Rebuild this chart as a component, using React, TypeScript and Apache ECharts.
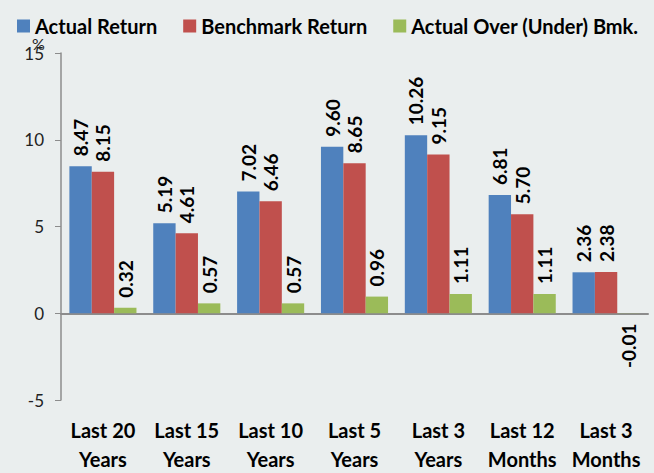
import React, { useEffect, useRef } from "react";
import * as echarts from "echarts";

const categories = [
  "Last 20\nYears",
  "Last 15\nYears",
  "Last 10\nYears",
  "Last 5\nYears",
  "Last 3\nYears",
  "Last 12\nMonths",
  "Last 3\nMonths",
];
const actualReturn = [8.47, 5.19, 7.02, 9.6, 10.26, 6.81, 2.36];
const benchmarkReturn = [8.15, 4.61, 6.46, 8.65, 9.15, 5.7, 2.38];
const overUnder = [0.32, 0.57, 0.57, 0.96, 1.11, 1.11, -0.01];
const seriesNames = ["Actual Return", "Benchmark Return", "Actual Over (Under) Bmk."];
const seriesColors = ["#4F81BD", "#C0504D", "#9BBB59"];
const yTicks = { min: -5, max: 15, interval: 5 };

const FONT = "Lato, 'Open Sans', sans-serif";

function toData(values: number[]) {
  return values.map((v) =>
    v < 0
      ? {
          value: v,
          label: { position: "bottom", align: "right", rotate: 90, verticalAlign: "middle" },
        }
      : v
  );
}

export default function App() {
  const ref = useRef<HTMLDivElement>(null);
  useEffect(() => {
    if (!ref.current) return;
    const chart = echarts.init(ref.current, null, { renderer: "svg" });
    const seriesValues = [actualReturn, benchmarkReturn, overUnder];
    chart.setOption({
      animation: false,
      backgroundColor: "#EAEEEE",
      textStyle: { fontFamily: FONT },
      legend: {
        left: 12,
        top: 11,
        width: 650,
        itemWidth: 13,
        itemHeight: 13,
        itemGap: 26,
        icon: "rect",
        textStyle: { fontFamily: FONT, fontSize: 20, fontWeight: "bold", color: "#000" },
        data: seriesNames,
      },
      grid: { left: 61, right: 6, top: 53, bottom: 65, containLabel: false },
      xAxis: [
        {
          type: "category",
          data: categories,
          axisLine: { show: false, onZero: false },
          axisTick: { show: false },
          axisLabel: {
            interval: 0,
            margin: 15,
            fontFamily: FONT,
            fontSize: 20,
            fontWeight: "bold",
            color: "#000",
            lineHeight: 29,
          },
        },
        {
          type: "category",
          data: categories,
          position: "bottom",
          axisLine: { show: true, onZero: true, lineStyle: { color: "#8C8C8C", width: 2 } },
          axisTick: { show: false },
          axisLabel: { show: false },
        },
      ],
      yAxis: {
        type: "value",
        min: yTicks.min,
        max: yTicks.max,
        interval: yTicks.interval,
        axisLine: { show: true, lineStyle: { color: "#8C8C8C", width: 1.5 } },
        axisTick: { show: true, inside: false, length: 6, lineStyle: { color: "#8C8C8C" } },
        splitLine: { show: false },
        axisLabel: {
          margin: 17,
          fontFamily: FONT,
          fontSize: 17,
          color: "#222",
        },
      },
      graphic: [
        {
          type: "text",
          left: 32,
          top: 35,
          style: { text: "%", fontFamily: FONT, fontSize: 16, fill: "#222" },
        },
      ],
      series: seriesValues.map((vals, i) => ({
        name: seriesNames[i],
        type: "bar",
        xAxisIndex: 0,
        data: toData(vals),
        barGap: "0%",
        barCategoryGap: "20%",
        itemStyle: { color: seriesColors[i] },
        label: {
          show: true,
          position: "top",
          rotate: 90,
          align: "left",
          verticalAlign: "middle",
          distance: 10,
          fontFamily: FONT,
          fontSize: 19,
          fontWeight: "bold",
          color: "#000",
          formatter: (p: any) => Number(p.value).toFixed(2),
        },
      })),
    });
    return () => chart.dispose();
  }, []);
  return <div ref={ref} style={{ width: 654, height: 473, position: "absolute", left: 0, top: 0 }} />;
}
